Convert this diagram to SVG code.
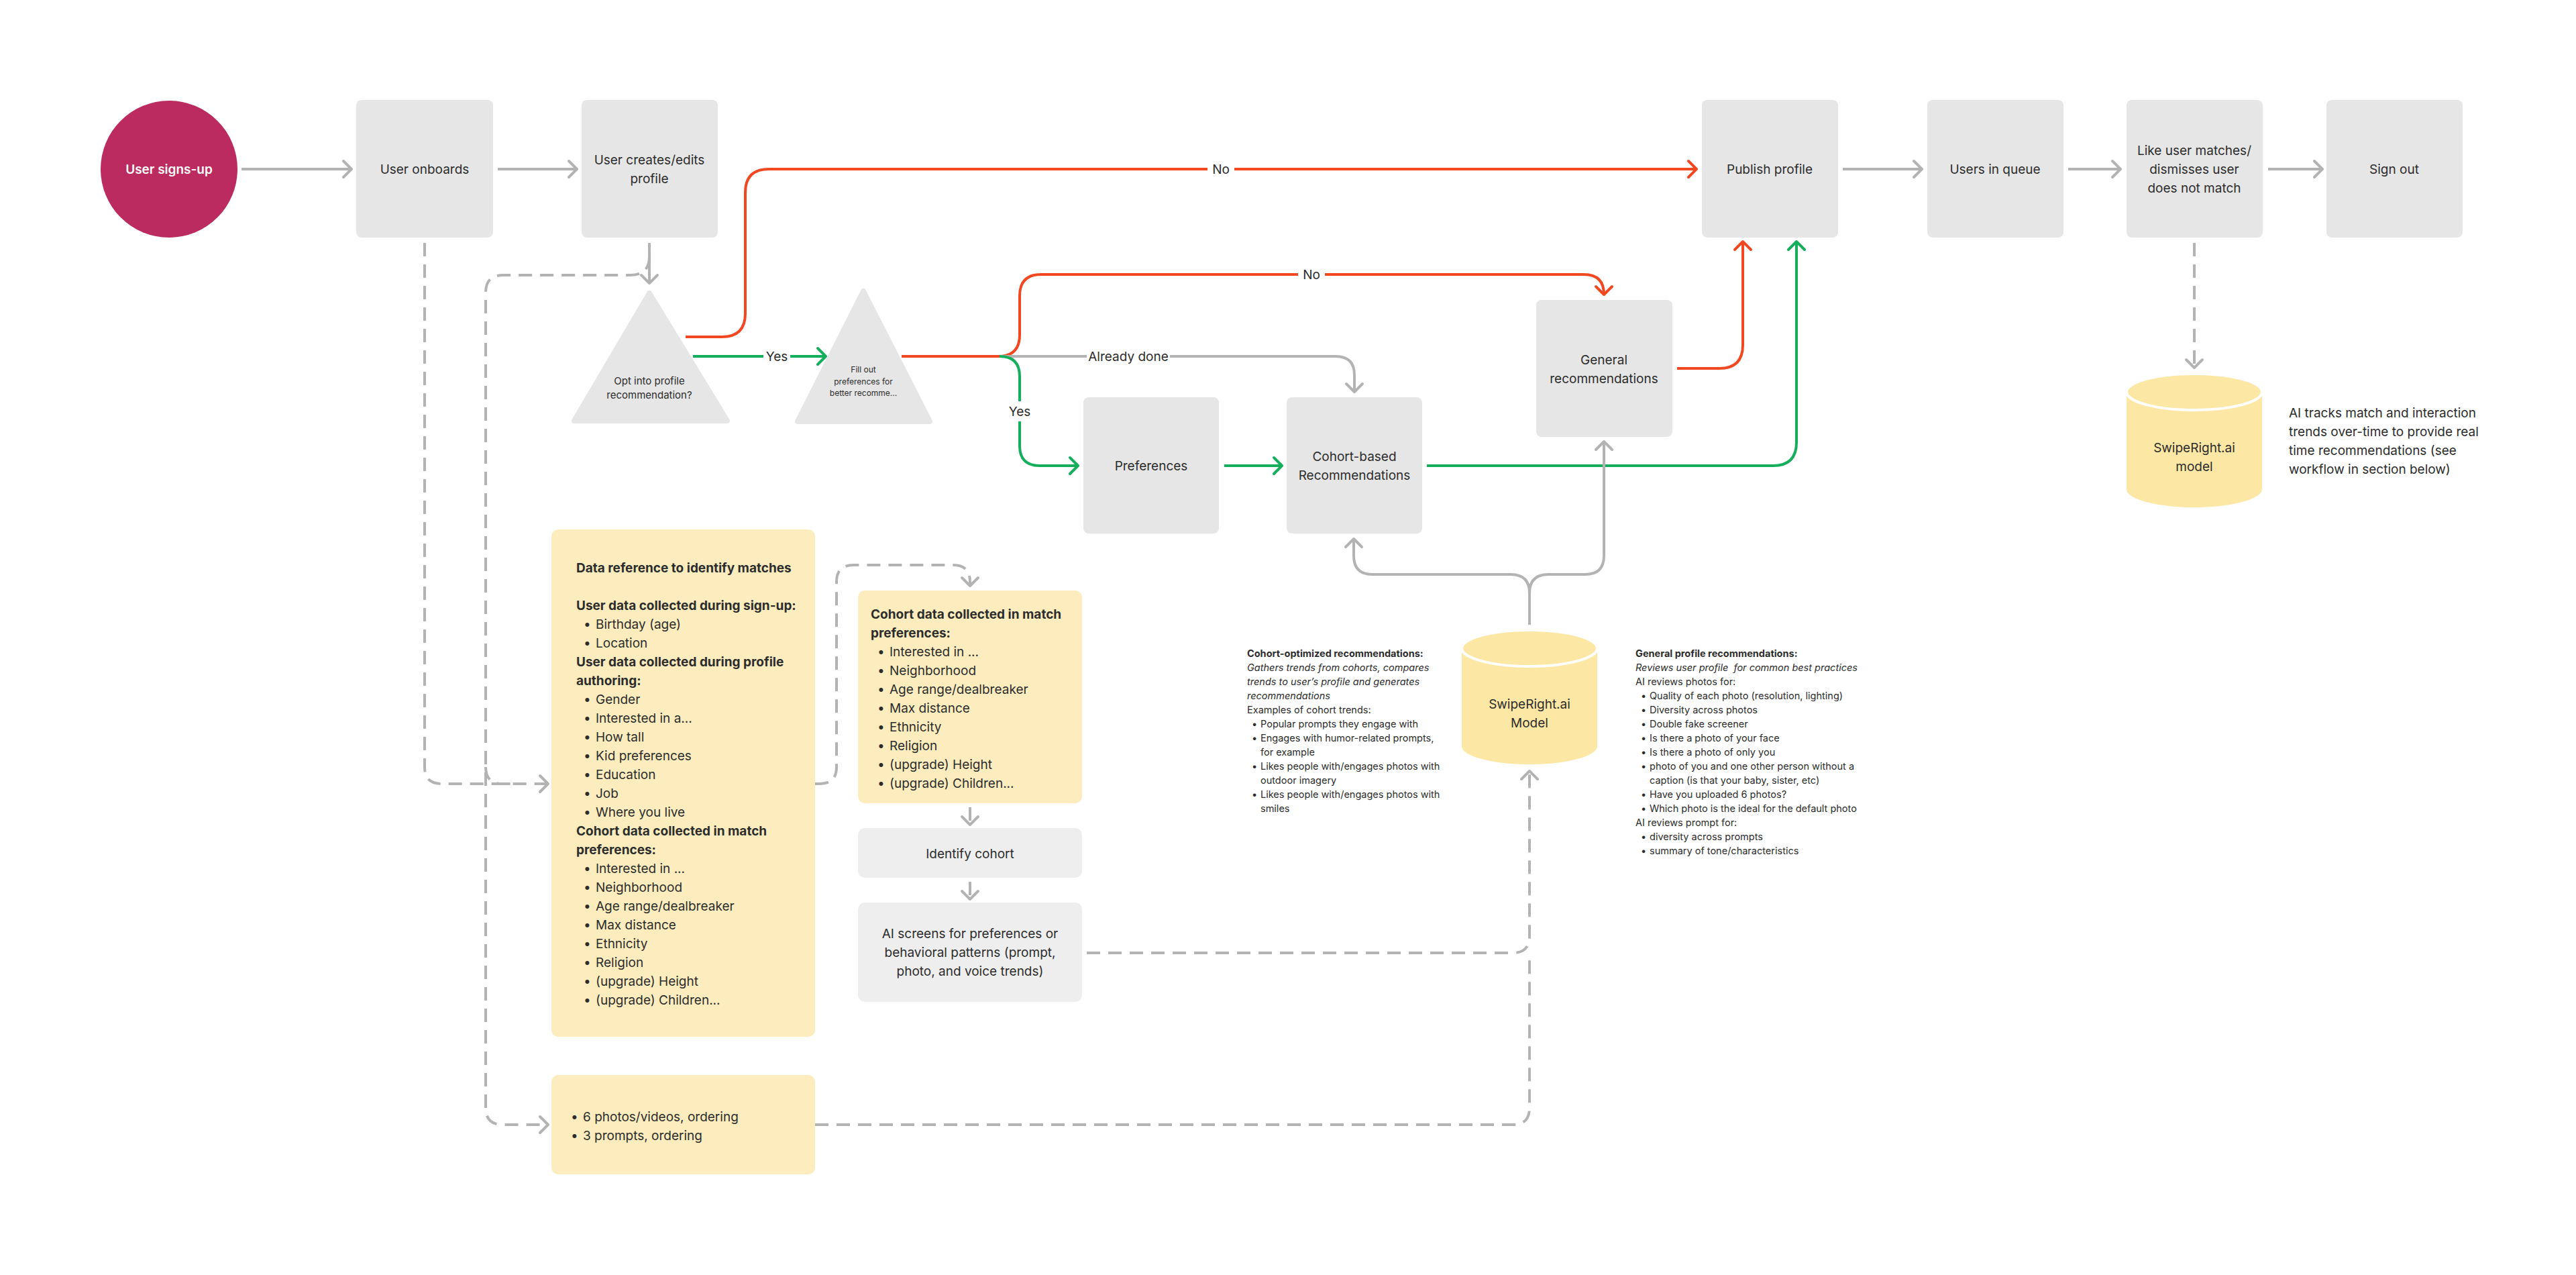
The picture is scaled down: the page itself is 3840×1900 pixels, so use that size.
<svg xmlns="http://www.w3.org/2000/svg" width="3840" height="1900" viewBox="0 0 3840 1900">
<style>
.box{fill:#E6E6E6}
.lbox{fill:#EEEEEE}
.note{fill:#FDEDBE}
.cyl{fill:#FDE7A5}
.t{font-family:Inter,"Noto Sans","Liberation Sans",sans-serif;fill:#2C2C2C}
.m{font-size:19px;text-anchor:middle}
.n{font-size:19px}
.s{font-size:14.5px}
.b{font-weight:700}
.i{font-style:italic}
.g{fill:none;stroke:#B3B3B3;stroke-width:4}
.d{fill:none;stroke:#B3B3B3;stroke-width:4;stroke-dasharray:20 12}
.r{fill:none;stroke:#F24822;stroke-width:4}
.gr{fill:none;stroke:#14AE5C;stroke-width:4}
</style>
<defs>
<marker id="ag" viewBox="-16 -16 32 32" markerWidth="32" markerHeight="32" refX="0" refY="0" orient="auto" markerUnits="userSpaceOnUse"><path d="M-12,-12 L0,0 L-12,12" fill="none" stroke="#B3B3B3" stroke-width="4" stroke-linecap="round" stroke-linejoin="round"/></marker>
<marker id="ar" viewBox="-16 -16 32 32" markerWidth="32" markerHeight="32" refX="0" refY="0" orient="auto" markerUnits="userSpaceOnUse"><path d="M-12,-12 L0,0 L-12,12" fill="none" stroke="#F24822" stroke-width="4" stroke-linecap="round" stroke-linejoin="round"/></marker>
<marker id="agr" viewBox="-16 -16 32 32" markerWidth="32" markerHeight="32" refX="0" refY="0" orient="auto" markerUnits="userSpaceOnUse"><path d="M-12,-12 L0,0 L-12,12" fill="none" stroke="#14AE5C" stroke-width="4" stroke-linecap="round" stroke-linejoin="round"/></marker>
</defs>
<rect width="3840" height="1900" fill="#FFFFFF"/>

<g id="connectors">
<path class="g" d="M360 252 H524" marker-end="url(#ag)"/>
<path class="g" d="M742 252 H860" marker-end="url(#ag)"/>
<path class="g" d="M2747 252 H2865" marker-end="url(#ag)"/>
<path class="g" d="M3083 252 H3161" marker-end="url(#ag)"/>
<path class="g" d="M3381 252 H3462" marker-end="url(#ag)"/>
<path class="g" d="M968 362 V422" marker-end="url(#ag)"/>
<path class="r" d="M1022 502 H1076 Q1111 502 1111 467 V287 Q1111 252 1146 252 H2529" marker-end="url(#ar)"/>
<path class="gr" d="M1033 531 H1231" marker-end="url(#agr)"/>
<path class="r" d="M1344 531 H1488 Q1520 531 1520 499 V441 Q1520 409 1552 409 H2361 Q2391 409 2391 439" marker-end="url(#ar)"/>
<path class="g" d="M1490 531 H1991 Q2019 531 2019 559 V584" marker-end="url(#ag)"/>
<path class="gr" d="M1490 531 Q1520 531 1520 561 V664 Q1520 694 1550 694 H1607" marker-end="url(#agr)"/>
<path class="gr" d="M1825 694 H1911" marker-end="url(#agr)"/>
<path class="gr" d="M2127 694 H2643 Q2678 694 2678 659 V360" marker-end="url(#agr)"/>
<path class="r" d="M2500 549 H2563 Q2598 549 2598 514 V360" marker-end="url(#ar)"/>
<path class="g" d="M2280 931 V884 Q2280 856 2252 856 H2046 Q2018 856 2018 828 V803" marker-end="url(#ag)"/>
<path class="g" d="M2280 884 Q2280 856 2308 856 H2363 Q2391 856 2391 828 V658" marker-end="url(#ag)"/>
<path class="d" d="M633 362 V1143 Q633 1168 658 1168 H817" marker-end="url(#ag)"/>
<path class="d" d="M968 382 Q968 410 940 410 H750 Q724 410 724 436 V1651 Q724 1676 749 1676 H817" marker-end="url(#ag)"/>
<path class="d" d="M724 1143 Q724 1168 749 1168 H765"/>
<path class="d" d="M1215 1168 H1222 Q1247 1168 1247 1143 V867 Q1247 842 1272 842 H1421 Q1446 842 1446 867 V873" marker-end="url(#ag)"/>
<path class="d" d="M1446 1203 V1229" marker-end="url(#ag)"/>
<path class="d" d="M1446 1314 V1340" marker-end="url(#ag)"/>
<path class="d" d="M1620 1420 H2255 Q2280 1420 2280 1395 V1149" marker-end="url(#ag)"/>
<path class="d" d="M1215 1676 H2255 Q2280 1676 2280 1651 V1430"/>
<path class="d" d="M3271 362 V548" marker-end="url(#ag)"/>
</g>

<g id="labels">
<rect x="1800" y="238" width="40" height="28" fill="#FFFFFF"/>
<text class="t m" x="1820" y="259">No</text>
<rect x="1935" y="395" width="40" height="28" fill="#FFFFFF"/>
<text class="t m" x="1955" y="416">No</text>
<rect x="1620" y="517" width="124" height="28" fill="#FFFFFF"/>
<text class="t m" x="1682" y="538">Already done</text>
<rect x="1138" y="517" width="40" height="28" fill="#FFFFFF"/>
<text class="t m" x="1158" y="538">Yes</text>
<rect x="1500" y="598" width="40" height="30" fill="#FFFFFF"/>
<text class="t m" x="1520" y="620">Yes</text>
</g>

<g id="user-signs-up">
<circle cx="252" cy="252" r="102" fill="#BC2B5F"/>
<text class="t m" x="252" y="259" style="fill:#FFFFFF;font-weight:600">User signs-up</text>
</g>
<g id="user-onboards">
<rect class="box" x="531" y="149" width="204" height="205" rx="8"/>
<text class="t m" x="633" y="259">User onboards</text>
</g>
<g id="user-creates">
<rect class="box" x="867" y="149" width="203" height="205" rx="8"/>
<text class="t m" x="968" y="245">User creates/edits</text>
<text class="t m" x="968" y="273">profile</text>
</g>
<g id="opt-in">
<polygon points="968,437 856,627 1084,627" class="box" stroke="#E6E6E6" stroke-width="8" stroke-linejoin="round"/>
<text class="t" x="968" y="573" style="font-size:15px;text-anchor:middle">Opt into profile</text>
<text class="t" x="968" y="594" style="font-size:15px;text-anchor:middle">recommendation?</text>
</g>
<g id="fill-out">
<polygon points="1287,434 1189,628 1386,628" class="box" stroke="#E6E6E6" stroke-width="8" stroke-linejoin="round"/>
<text class="t" x="1287" y="555" style="font-size:12px;text-anchor:middle">Fill out</text>
<text class="t" x="1287" y="573" style="font-size:12px;text-anchor:middle">preferences for</text>
<text class="t" x="1287" y="590" style="font-size:12px;text-anchor:middle">better recomme...</text>
</g>
<g id="preferences">
<rect class="box" x="1615" y="592" width="202" height="203" rx="8"/>
<text class="t m" x="1716" y="701">Preferences</text>
</g>
<g id="cohort-based">
<rect class="box" x="1918" y="592" width="202" height="203" rx="8"/>
<text class="t m" x="2019" y="687">Cohort-based</text>
<text class="t m" x="2019" y="715">Recommendations</text>
</g>
<g id="general-recommendations">
<rect class="box" x="2290" y="447" width="203" height="204" rx="8"/>
<text class="t m" x="2391" y="543">General</text>
<text class="t m" x="2391" y="571">recommendations</text>
</g>
<g id="publish-profile">
<rect class="box" x="2537" y="149" width="203" height="205" rx="8"/>
<text class="t m" x="2638" y="259">Publish profile</text>
</g>
<g id="users-in-queue">
<rect class="box" x="2873" y="149" width="203" height="205" rx="8"/>
<text class="t m" x="2974" y="259">Users in queue</text>
</g>
<g id="like-user">
<rect class="box" x="3170" y="149" width="203" height="205" rx="8"/>
<text class="t m" x="3271" y="231">Like user matches/</text>
<text class="t m" x="3271" y="259">dismisses user</text>
<text class="t m" x="3271" y="287">does not match</text>
</g>
<g id="sign-out">
<rect class="box" x="3468" y="149" width="203" height="205" rx="8"/>
<text class="t m" x="3569" y="259">Sign out</text>
</g>
<g id="swiperight-model-right">
<path class="cyl" d="M3170 584 V729 A101 27 0 0 0 3372 729 V584 Z"/>
<ellipse class="cyl" cx="3271" cy="584" rx="101" ry="27" stroke="#FFFFFF" stroke-width="4"/>
<text class="t m" x="3271" y="674">SwipeRight.ai</text>
<text class="t m" x="3271" y="702">model</text>
</g>
<g id="ai-tracks-note">
<text class="t n" x="3412" y="622">AI tracks match and interaction</text>
<text class="t n" x="3412" y="650">trends over-time to provide real</text>
<text class="t n" x="3412" y="678">time recommendations (see</text>
<text class="t n" x="3412" y="706">workflow in section below)</text>
</g>
<g id="swiperight-model-center">
<path class="cyl" d="M2179 966 V1112 A101 27 0 0 0 2381 1112 V966 Z"/>
<ellipse class="cyl" cx="2280" cy="966" rx="101" ry="27" stroke="#FFFFFF" stroke-width="4"/>
<text class="t m" x="2280" y="1056">SwipeRight.ai</text>
<text class="t m" x="2280" y="1084">Model</text>
</g>
<g id="data-reference">
<rect class="note" x="822" y="789" width="393" height="756" rx="10"/>
<text class="t n b" x="859" y="853">Data reference to identify matches</text>
<text class="t n b" x="859" y="909">User data collected during sign-up:</text>
<text class="t n" y="937"><tspan x="870">•</tspan><tspan x="888">Birthday (age)</tspan></text>
<text class="t n" y="965"><tspan x="870">•</tspan><tspan x="888">Location</tspan></text>
<text class="t n b" x="859" y="993">User data collected during profile</text>
<text class="t n b" x="859" y="1021">authoring:</text>
<text class="t n" y="1049"><tspan x="870">•</tspan><tspan x="888">Gender</tspan></text>
<text class="t n" y="1077"><tspan x="870">•</tspan><tspan x="888">Interested in a...</tspan></text>
<text class="t n" y="1105"><tspan x="870">•</tspan><tspan x="888">How tall</tspan></text>
<text class="t n" y="1133"><tspan x="870">•</tspan><tspan x="888">Kid preferences</tspan></text>
<text class="t n" y="1161"><tspan x="870">•</tspan><tspan x="888">Education</tspan></text>
<text class="t n" y="1189"><tspan x="870">•</tspan><tspan x="888">Job</tspan></text>
<text class="t n" y="1217"><tspan x="870">•</tspan><tspan x="888">Where you live</tspan></text>
<text class="t n b" x="859" y="1245">Cohort data collected in match</text>
<text class="t n b" x="859" y="1273">preferences:</text>
<text class="t n" y="1301"><tspan x="870">•</tspan><tspan x="888">Interested in ...</tspan></text>
<text class="t n" y="1329"><tspan x="870">•</tspan><tspan x="888">Neighborhood</tspan></text>
<text class="t n" y="1357"><tspan x="870">•</tspan><tspan x="888">Age range/dealbreaker</tspan></text>
<text class="t n" y="1385"><tspan x="870">•</tspan><tspan x="888">Max distance</tspan></text>
<text class="t n" y="1413"><tspan x="870">•</tspan><tspan x="888">Ethnicity</tspan></text>
<text class="t n" y="1441"><tspan x="870">•</tspan><tspan x="888">Religion</tspan></text>
<text class="t n" y="1469"><tspan x="870">•</tspan><tspan x="888">(upgrade) Height</tspan></text>
<text class="t n" y="1497"><tspan x="870">•</tspan><tspan x="888">(upgrade) Children...</tspan></text>
</g>
<g id="cohort-data">
<rect class="note" x="1279" y="880" width="334" height="317" rx="10"/>
<text class="t n b" x="1298" y="922">Cohort data collected in match</text>
<text class="t n b" x="1298" y="950">preferences:</text>
<text class="t n" y="978"><tspan x="1308">•</tspan><tspan x="1326">Interested in ...</tspan></text>
<text class="t n" y="1006"><tspan x="1308">•</tspan><tspan x="1326">Neighborhood</tspan></text>
<text class="t n" y="1034"><tspan x="1308">•</tspan><tspan x="1326">Age range/dealbreaker</tspan></text>
<text class="t n" y="1062"><tspan x="1308">•</tspan><tspan x="1326">Max distance</tspan></text>
<text class="t n" y="1090"><tspan x="1308">•</tspan><tspan x="1326">Ethnicity</tspan></text>
<text class="t n" y="1118"><tspan x="1308">•</tspan><tspan x="1326">Religion</tspan></text>
<text class="t n" y="1146"><tspan x="1308">•</tspan><tspan x="1326">(upgrade) Height</tspan></text>
<text class="t n" y="1174"><tspan x="1308">•</tspan><tspan x="1326">(upgrade) Children...</tspan></text>
</g>
<g id="identify-cohort">
<rect class="lbox" x="1279" y="1234" width="334" height="74" rx="10"/>
<text class="t m" x="1446" y="1279">Identify cohort</text>
</g>
<g id="ai-screens">
<rect class="lbox" x="1279" y="1345" width="334" height="148" rx="10"/>
<text class="t m" x="1446" y="1398">AI screens for preferences or</text>
<text class="t m" x="1446" y="1426">behavioral patterns (prompt,</text>
<text class="t m" x="1446" y="1454">photo, and voice trends)</text>
</g>
<g id="photos-prompts">
<rect class="note" x="822" y="1602" width="393" height="148" rx="10"/>
<text class="t n" y="1671"><tspan x="851">•</tspan><tspan x="869">6 photos/videos, ordering</tspan></text>
<text class="t n" y="1699"><tspan x="851">•</tspan><tspan x="869">3 prompts, ordering</tspan></text>
</g>
<g id="cohort-optimized-note">
<text class="t s b" x="1859" y="979">Cohort-optimized recommendations:</text>
<text class="t s i" x="1859" y="1000">Gathers trends from cohorts, compares</text>
<text class="t s i" x="1859" y="1021">trends to user’s profile and generates</text>
<text class="t s i" x="1859" y="1042">recommendations</text>
<text class="t s" x="1859" y="1063">Examples of cohort trends:</text>
<text class="t s" y="1084"><tspan x="1866">•</tspan><tspan x="1879">Popular prompts they engage with</tspan></text>
<text class="t s" y="1105"><tspan x="1866">•</tspan><tspan x="1879">Engages with humor-related prompts,</tspan></text>
<text class="t s" x="1879" y="1126">for example</text>
<text class="t s" y="1147"><tspan x="1866">•</tspan><tspan x="1879">Likes people with/engages photos with</tspan></text>
<text class="t s" x="1879" y="1168">outdoor imagery</text>
<text class="t s" y="1189"><tspan x="1866">•</tspan><tspan x="1879">Likes people with/engages photos with</tspan></text>
<text class="t s" x="1879" y="1210">smiles</text>
</g>
<g id="general-profile-note">
<text class="t s b" x="2438" y="979">General profile recommendations:</text>
<text class="t s i" x="2438" y="1000" xml:space="preserve">Reviews user profile  for common best practices</text>
<text class="t s" x="2438" y="1021">AI reviews photos for:</text>
<text class="t s" y="1042"><tspan x="2446">•</tspan><tspan x="2459">Quality of each photo (resolution, lighting)</tspan></text>
<text class="t s" y="1063"><tspan x="2446">•</tspan><tspan x="2459">Diversity across photos</tspan></text>
<text class="t s" y="1084"><tspan x="2446">•</tspan><tspan x="2459">Double fake screener</tspan></text>
<text class="t s" y="1105"><tspan x="2446">•</tspan><tspan x="2459">Is there a photo of your face</tspan></text>
<text class="t s" y="1126"><tspan x="2446">•</tspan><tspan x="2459">Is there a photo of only you</tspan></text>
<text class="t s" y="1147"><tspan x="2446">•</tspan><tspan x="2459">photo of you and one other person without a</tspan></text>
<text class="t s" x="2459" y="1168">caption (is that your baby, sister, etc)</text>
<text class="t s" y="1189"><tspan x="2446">•</tspan><tspan x="2459">Have you uploaded 6 photos?</tspan></text>
<text class="t s" y="1210"><tspan x="2446">•</tspan><tspan x="2459">Which photo is the ideal for the default photo</tspan></text>
<text class="t s" x="2438" y="1231">AI reviews prompt for:</text>
<text class="t s" y="1252"><tspan x="2446">•</tspan><tspan x="2459">diversity across prompts</tspan></text>
<text class="t s" y="1273"><tspan x="2446">•</tspan><tspan x="2459">summary of tone/characteristics</tspan></text>
</g>
</svg>
